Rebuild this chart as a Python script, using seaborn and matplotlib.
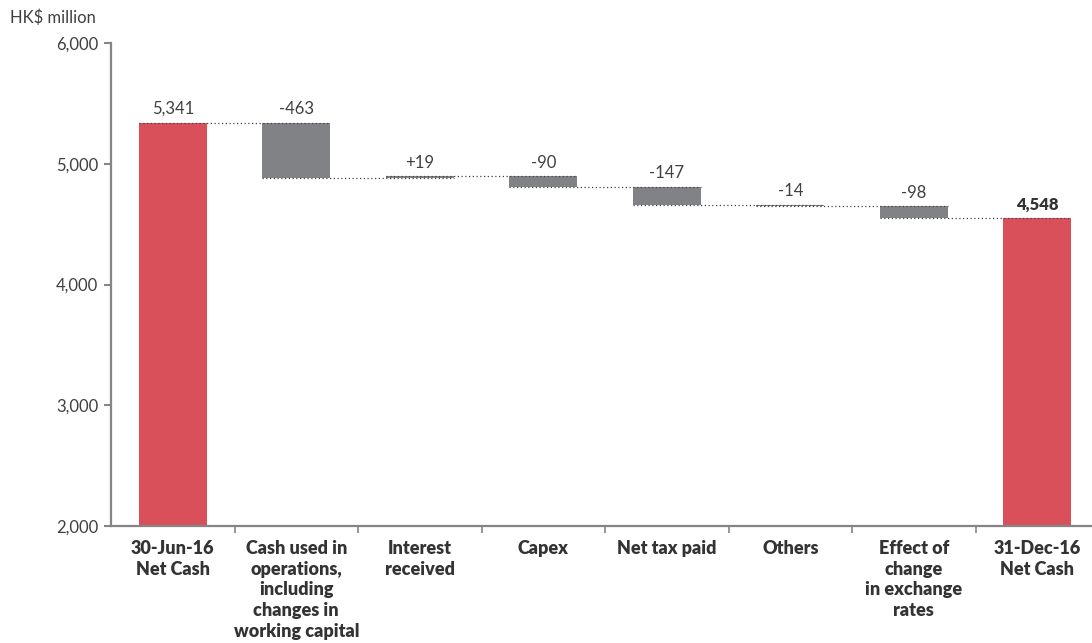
import matplotlib
matplotlib.use("Agg")
import matplotlib.pyplot as plt
import seaborn as sns
import pandas as pd
import numpy as np

# Net cash bridge, HK$ million
categories = [
    "30-Jun-16\nNet Cash",
    "Cash used in\noperations,\nincluding\nchanges in\nworking capital",
    "Interest\nreceived",
    "Capex",
    "Net tax paid",
    "Others",
    "Effect of\nchange\nin exchange\nrates",
    "31-Dec-16\nNet Cash",
]
opening_cash = 5341
changes = [-463, 19, -90, -147, -14, -98]
closing_cash = 4548
value_labels = ["5,341", "-463", "+19", "-90", "-147", "-14", "-98", "4,548"]
y_ticks = [2000, 3000, 4000, 5000, 6000]
y_tick_labels = ["2,000", "3,000", "4,000", "5,000", "6,000"]

RED = "#D9505A"
GREY = "#818285"
AXIS = "#858585"
TEXT = "#333333"

# floating-bar geometry: bottoms and tops for every step
levels = [opening_cash]
for c in changes:
    levels.append(levels[-1] + c)
bottoms = [2000]
tops = [opening_cash]
for i, c in enumerate(changes):
    lo, hi = sorted([levels[i], levels[i + 1]])
    bottoms.append(lo)
    tops.append(hi)
bottoms.append(2000)
tops.append(closing_cash)
# running level carried from each bar to the next
carry = [opening_cash] + levels[1:]

df = pd.DataFrame({"step": categories, "top": tops})
colors = [RED] + [GREY] * len(changes) + [RED]

sns.set_theme(style="white")
plt.rcParams["font.family"] = ["Lato", "DejaVu Sans"]

fig = plt.figure(figsize=(10.92, 6.43), dpi=100)
ax = fig.add_axes([111 / 1092, 1 - 526 / 643, 1 - 111 / 1092, (526 - 43) / 643])

width = 0.55
sns.barplot(data=df, x="step", y="top", hue="step", palette=colors,
            legend=False, width=width, saturation=1, ax=ax, linewidth=0)

# turn the bars into floating bars
for p in ax.patches:
    idx = int(round(p.get_x() + p.get_width() / 2))
    p.set_y(bottoms[idx])
    p.set_height(tops[idx] - bottoms[idx])

# dotted connectors between consecutive bars
for i in range(len(categories) - 1):
    ax.plot([i - width / 2, i + 1 + width / 2], [carry[i], carry[i]],
            linestyle=(0, (1, 2)), color="#444444", linewidth=0.9, zorder=3)

# value labels
for i, lab in enumerate(value_labels):
    bold = i == len(value_labels) - 1
    ax.annotate(lab, (i, tops[i]), xytext=(0, 4), textcoords="offset points",
                ha="center", va="bottom", fontsize=12,
                color=TEXT if bold else "#404040",
                fontweight="heavy" if bold else "normal")

ax.set_ylim(2000, 6000)
ax.set_xlim(-0.5, -0.5 + (1092 - 111) / 123.5)
ax.set_yticks(y_ticks)
ax.set_yticklabels(y_tick_labels, fontsize=12, color="#404040")
ax.set_xticks(range(len(categories)))
ax.set_xticklabels(categories, fontsize=13, fontweight="heavy", color=TEXT,
                   linespacing=1.27, va="top")
ax.set_xticks(np.arange(0.5, len(categories) - 0.5, 1), minor=True)
ax.tick_params(axis="x", which="major", length=0, pad=10)
ax.tick_params(axis="x", which="minor", length=5, width=1.2, color=AXIS,
               direction="out", bottom=True)
ax.tick_params(axis="y", length=5, width=1.5, color=AXIS, direction="out",
               left=True, pad=4)
ax.set_xlabel("")
ax.set_ylabel("")

for side in ["top", "right"]:
    ax.spines[side].set_visible(False)
for side in ["left", "bottom"]:
    ax.spines[side].set_color(AXIS)
    ax.spines[side].set_linewidth(1.6)

fig.text(10 / 1092, 1 - 18 / 643, "HK$ million", fontsize=12, color="#404040",
         ha="left", va="center")

fig.savefig("out.png", dpi=100)
